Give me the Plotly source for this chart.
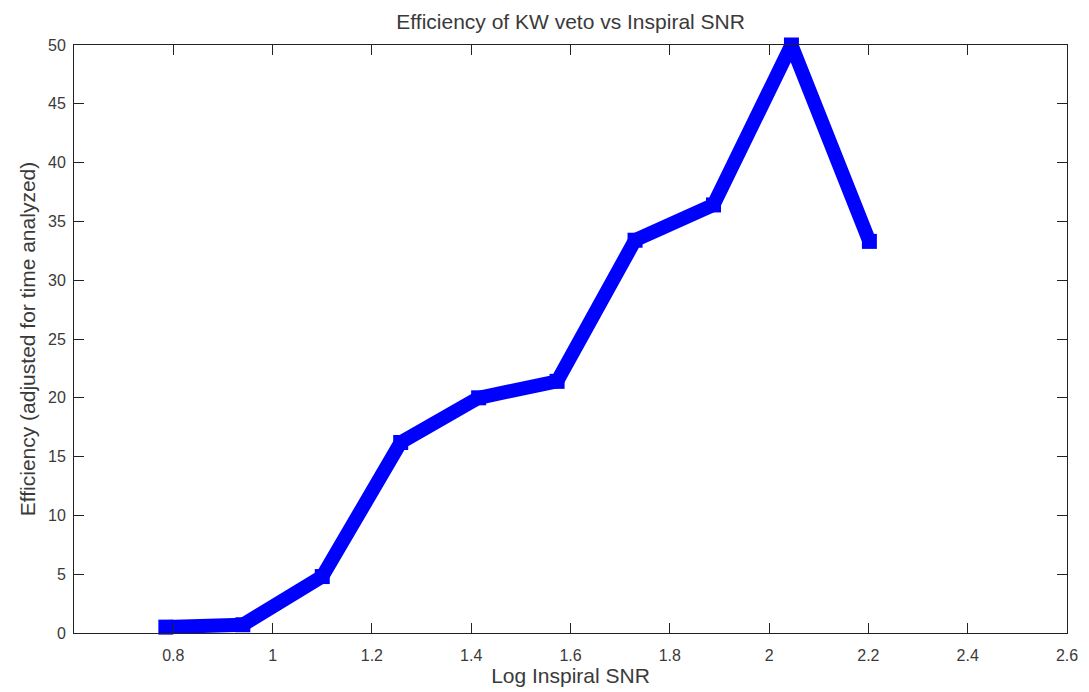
import plotly.graph_objects as go

log_snr = [0.785, 0.94, 1.1, 1.258, 1.415, 1.573, 1.73, 1.888, 2.045, 2.202]
efficiency = [0.5, 0.7, 4.8, 16.2, 20.0, 21.4, 33.4, 36.4, 50.0, 33.3]
x_ticks = [0.8, 1.0, 1.2, 1.4, 1.6, 1.8, 2.0, 2.2, 2.4, 2.6]
x_tick_labels = ["0.8", "1", "1.2", "1.4", "1.6", "1.8", "2", "2.2", "2.4", "2.6"]
y_ticks = list(range(0, 51, 5))

FONT = "Liberation Sans, Arial, sans-serif"
TXT = "#3a3a3a"

fig = go.Figure()
fig.add_trace(go.Scatter(
    x=log_snr, y=efficiency, mode="lines+markers",
    line=dict(color="#0000FF", width=14),
    marker=dict(color="#0000FF", size=15, symbol="square"),
    cliponaxis=False, showlegend=False,
))

axis_common = dict(
    showline=True, linecolor="#222", linewidth=1, mirror="ticks",
    ticks="inside", ticklen=10, tickcolor="#222", showgrid=False, zeroline=False,
    tickfont=dict(family=FONT, size=16, color=TXT),
)

fig.update_layout(
    width=1089, height=692,
    margin=dict(l=74, r=22, t=45, b=59),
    paper_bgcolor="white", plot_bgcolor="white",
    title=dict(text="Efficiency of KW veto vs Inspiral SNR", x=0.524, xanchor="center",
               y=0.968, yanchor="middle",
               font=dict(family=FONT, size=21, color=TXT)),
    xaxis=dict(range=[0.6, 2.6], tickvals=x_ticks, ticktext=x_tick_labels,
               ticklabelstandoff=8,
               title=dict(text="Log Inspiral SNR", standoff=2,
                          font=dict(family=FONT, size=21, color=TXT)),
               **axis_common),
    yaxis=dict(range=[0, 50], tickvals=y_ticks, ticklabelstandoff=4,
               title=dict(text="Efficiency (adjusted for time analyzed)", standoff=6,
                          font=dict(family=FONT, size=21, color=TXT)),
               **axis_common),
)

fig.write_html("out.html")
